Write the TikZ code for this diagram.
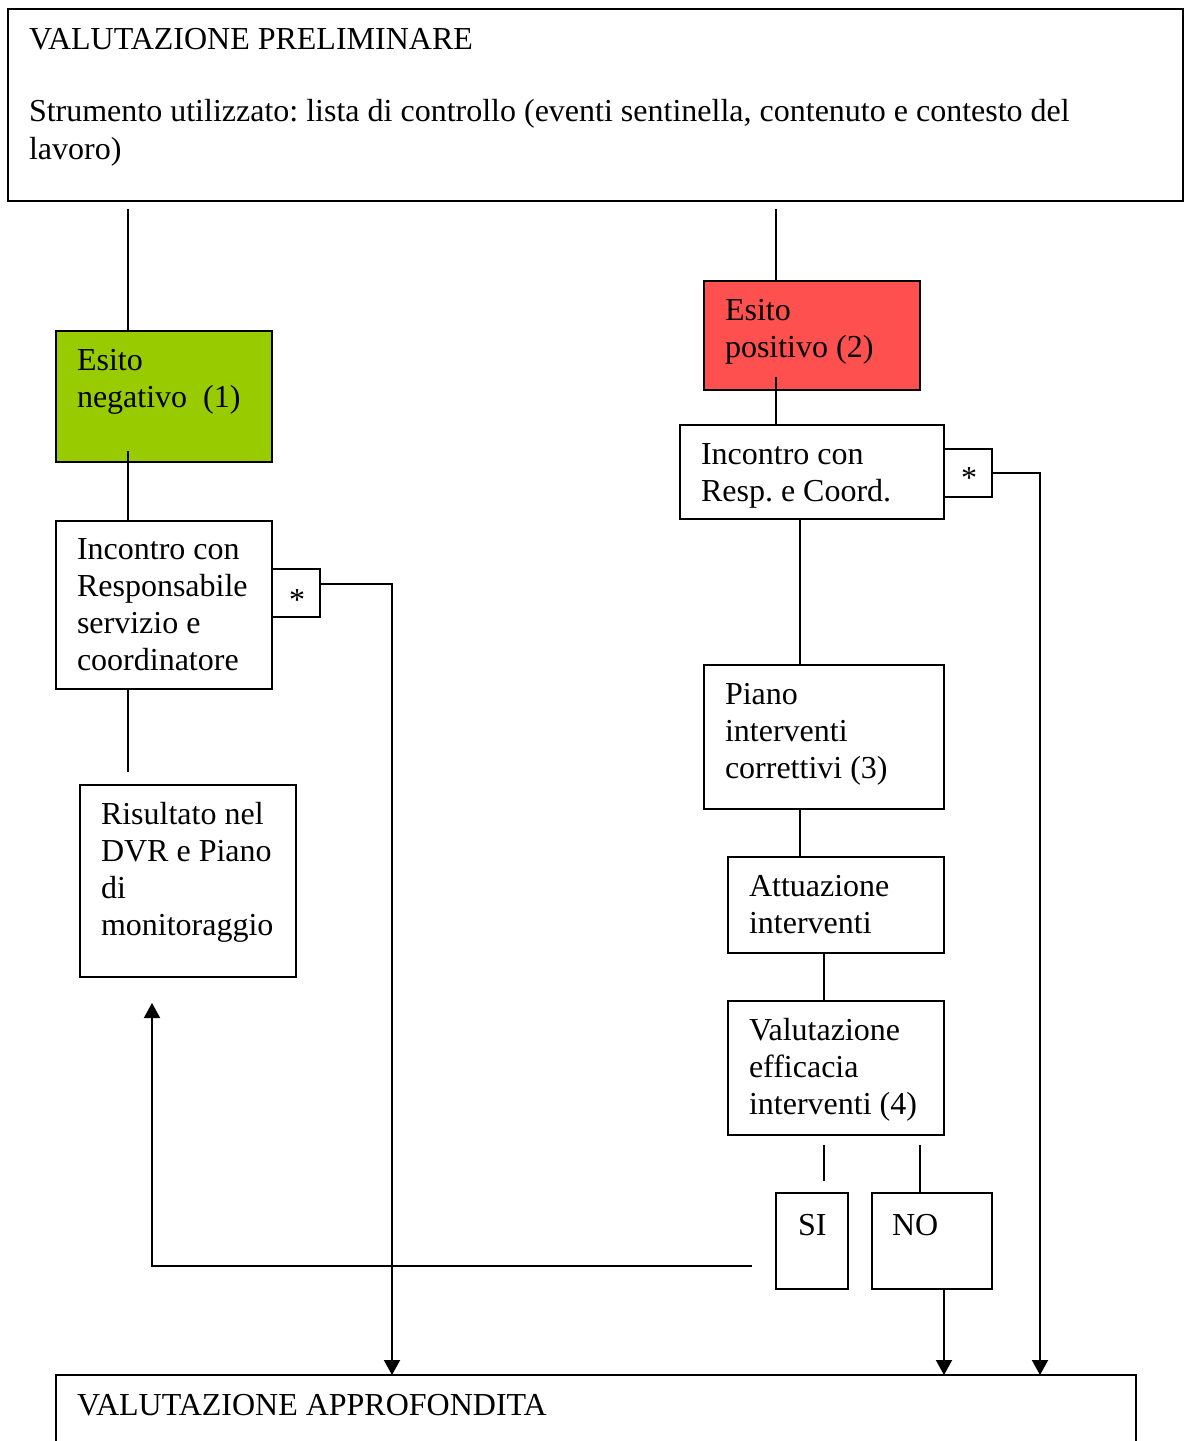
\documentclass[tikz,border=0pt]{standalone}
\usepackage{fontspec}
\setmainfont{Liberation Serif}
\usetikzlibrary{arrows.meta,calc}
\definecolor{vgreen}{HTML}{99CC00}
\definecolor{vred}{HTML}{FF5050}
\frenchspacing
\newcommand{\mylines}[1]{\begin{tabular}[t]{@{}l@{}}#1\end{tabular}}
\tikzset{
  box/.style={draw=black, line width=2pt, anchor=north west, inner sep=0pt, outer sep=0pt},
  txt/.style={anchor=base west, inner sep=0pt, outer sep=0pt, font=\fontsize{32}{37.3}\selectfont},
  startxt/.style={anchor=base, inner sep=0pt, outer sep=0pt, font=\fontsize{32}{37}\selectfont},
  conn/.style={line width=2pt},
  arr/.style={line width=2pt, -{Triangle[width=16pt,length=15pt]}},
}
\begin{document}
\begin{tikzpicture}[x=1pt,y=-1pt]
\useasboundingbox (0,0) rectangle (1184,1441);
\clip (0,0) rectangle (1184,1441);
% boxes
\node[box, minimum width=1175pt, minimum height=192pt] (top) at (8,9) {};
\node[box, fill=vgreen, minimum width=216pt, minimum height=131pt] (green) at (56,331) {};
\node[box, minimum width=216pt, minimum height=168pt] (inc1) at (56,521) {};
\node[box, minimum width=48pt, minimum height=48pt] (star1) at (272,569) {};
\node[box, minimum width=216pt, minimum height=192pt] (ris) at (80,785) {};
\node[box, fill=vred, minimum width=216pt, minimum height=109pt] (red) at (704,281) {};
\node[box, minimum width=264pt, minimum height=94pt] (inc2) at (680,425) {};
\node[box, minimum width=48pt, minimum height=48pt] (star2) at (944,449) {};
\node[box, minimum width=240pt, minimum height=144pt] (piano) at (704,665) {};
\node[box, minimum width=216pt, minimum height=96pt] (att) at (728,857) {};
\node[box, minimum width=216pt, minimum height=134pt] (val) at (728,1001) {};
\node[box, minimum width=72pt, minimum height=96pt] (si) at (776,1193) {};
\node[box, minimum width=120pt, minimum height=96pt] (no) at (872,1193) {};
\node[box, minimum width=1080pt, minimum height=120pt] (final) at (56,1375) {};
% texts
\node[txt] (ttop) at ($(top.north west)+(21,40)$) {VALUTAZIONE PRELIMINARE};
\node[txt, font=\fontsize{32}{38}\selectfont] (ttop2) at ($(top.north west)+(21,112)$) {\mylines{Strumento utilizzato: lista di controllo (eventi sentinella, contenuto e contesto del\\lavoro)}};
\node[txt] (tgreen) at ($(green.north west)+(21,39)$) {\mylines{Esito\\negativo\ \ (1)}};
\node[txt] (tinc1) at ($(inc1.north west)+(21,38)$) {\mylines{Incontro con\\Responsabile\\servizio e\\coordinatore}};
\node[startxt] (tstar1) at ($(star1.center)+(1,17)$) {*};
\node[txt] (tris) at ($(ris.north west)+(21,39)$) {\mylines{Risultato nel\\DVR e Piano\\di\\monitoraggio}};
\node[txt] (tred) at ($(red.north west)+(21,39)$) {\mylines{Esito\\positivo (2)}};
\node[txt] (tinc2) at ($(inc2.north west)+(21,39)$) {\mylines{Incontro con\\Resp. e Coord.}};
\node[startxt] (tstar2) at ($(star2.center)+(1,15)$) {*};
\node[txt] (tpiano) at ($(piano.north west)+(21,39)$) {\mylines{Piano\\interventi\\correttivi (3)}};
\node[txt] (tatt) at ($(att.north west)+(21,39)$) {\mylines{Attuazione\\interventi}};
\node[txt] (tval) at ($(val.north west)+(21,39)$) {\mylines{Valutazione\\efficacia\\interventi (4)}};
\node[txt] (tsi) at ($(si.north west)+(22,42)$) {SI};
\node[txt] (tno) at ($(no.north west)+(20,42)$) {NO};
\node[txt] (tfinal) at ($(final.north west)+(21,40)$) {VALUTAZIONE APPROFONDITA};
% connector end points
\coordinate (a1) at (128,209);
\coordinate (a2) at (776,209);
\coordinate (a3) at (128,451);
\coordinate (a4) at (128,772);
\coordinate (a5) at (776,377);
\coordinate (s1) at (320,584);
\coordinate (v1) at (824,1145);
\coordinate (v2) at (824,1181);
\coordinate (v3) at (920,1145);
\coordinate (b1) at (752,1266);
\coordinate (b2) at (152,1003);
% connectors
\draw[conn] (a1) -- (a1 |- green.north);
\draw[conn] (a2) -- (a2 |- red.north);
\draw[conn] (a3) -- (a3 |- inc1.north);
\draw[conn] (a4 |- inc1.south) -- (a4);
\draw[conn] (a5) -- (a5 |- inc2.north);
\draw[arr] (s1) -- (392,584) -- (392,584 |- final.north);
\draw[arr] (star2.east) -- (1040,473) -- (1040,473 |- final.north);
\draw[conn] (inc2.south -| 800,0) -- (800,0 |- piano.north);
\draw[conn] (piano.south -| 800,0) -- (800,0 |- att.north);
\draw[conn] (att.south -| 824,0) -- (824,0 |- val.north);
\draw[conn] (v1) -- (v2);
\draw[conn] (v3) -- (v3 |- no.north);
\draw[arr] (no.south -| 944,0) -- (944,0 |- final.north);
\draw[arr] (b1) -- (b1 -| b2) -- (b2);
\end{tikzpicture}
\end{document}
